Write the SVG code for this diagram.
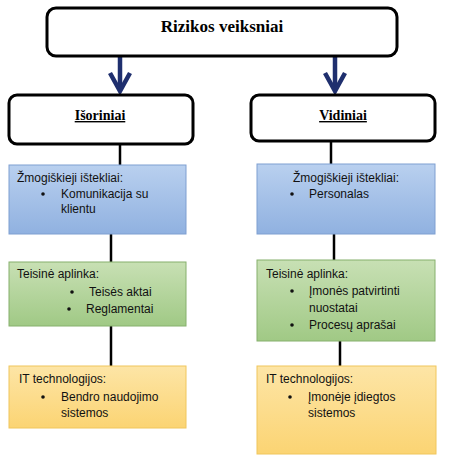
<svg xmlns="http://www.w3.org/2000/svg" width="449" height="456" viewBox="0 0 449 456">
<defs>
<linearGradient id="gb" x1="0" y1="0" x2="0" y2="1"><stop offset="0" stop-color="#b9d0ef"/><stop offset="1" stop-color="#90b1e0"/></linearGradient>
<linearGradient id="gg" x1="0" y1="0" x2="0" y2="1"><stop offset="0" stop-color="#c8e0b4"/><stop offset="1" stop-color="#a0c985"/></linearGradient>
<linearGradient id="gy" x1="0" y1="0" x2="0" y2="1"><stop offset="0" stop-color="#fde5a6"/><stop offset="1" stop-color="#fbd473"/></linearGradient>
<style>
.hdr{fill:#fff;stroke:#000;stroke-width:3}
.ht{font-family:"Liberation Serif",serif;font-weight:bold;fill:#000;text-anchor:middle}
.blue{fill:url(#gb);stroke:#7f9fd1;stroke-width:1}
.green{fill:url(#gg);stroke:#86b06c;stroke-width:1}
.yellow{fill:url(#gy);stroke:#f0c65c;stroke-width:1}
.t{font-family:"Liberation Sans",Arial,sans-serif;font-size:12px;fill:#111}
.b{fill:#111}
.line{stroke:#000;stroke-width:2.5;fill:none}
.arr{stroke:#1f2f6e;stroke-width:4.5;fill:none}
</style>
</defs>
<g id="connectors">
<line class="arr" x1="120" y1="56" x2="120" y2="90"/>
<polyline class="arr" points="110,73 120,91 130,73"/>
<line class="arr" x1="335" y1="56" x2="335" y2="90"/>
<polyline class="arr" points="325,73 335,91 345,73"/>
<line class="line" x1="120" y1="144" x2="120" y2="165"/>
<line class="line" x1="331" y1="141" x2="331" y2="164"/>
<line class="line" x1="111" y1="234" x2="111" y2="262"/>
<line class="line" x1="334" y1="234" x2="334" y2="260"/>
<line class="line" x1="111" y1="326" x2="111" y2="366"/>
<line class="line" x1="340" y1="341" x2="340" y2="366"/>
</g>
<g id="root">
<rect class="hdr" x="47" y="8" width="350" height="48" rx="9"/>
<text class="ht" x="222" y="32" font-size="17">Rizikos veiksniai</text>
</g>
<g id="isoriniai">
<rect class="hdr" x="9" y="95" width="184" height="49" rx="8"/>
<text class="ht" x="100" y="120" font-size="14" text-decoration="underline">Išoriniai</text>
</g>
<g id="vidiniai">
<rect class="hdr" x="251" y="95" width="184" height="46" rx="8"/>
<text class="ht" x="343" y="120" font-size="14" text-decoration="underline">Vidiniai</text>
</g>
<g id="l-zmog">
<rect class="blue" x="9" y="165" width="177" height="69"/>
<text class="t" x="17" y="182">Žmogiškieji ištekliai:</text>
<circle class="b" cx="43" cy="194" r="1.8"/>
<text class="t" x="61" y="198">Komunikacija su</text>
<text class="t" x="61" y="213">klientu</text>
</g>
<g id="l-teis">
<rect class="green" x="9" y="262" width="177" height="64"/>
<text class="t" x="17" y="278">Teisinė aplinka:</text>
<circle class="b" cx="72" cy="292" r="1.8"/>
<text class="t" x="89" y="296">Teisės aktai</text>
<circle class="b" cx="69" cy="309" r="1.8"/>
<text class="t" x="86" y="313">Reglamentai</text>
</g>
<g id="l-it">
<rect class="yellow" x="9" y="366" width="177" height="62"/>
<text class="t" x="19" y="383">IT technologijos:</text>
<circle class="b" cx="43" cy="397" r="1.8"/>
<text class="t" x="61" y="401">Bendro naudojimo</text>
<text class="t" x="61" y="417">sistemos</text>
</g>
<g id="r-zmog">
<rect class="blue" x="257" y="164" width="178" height="70"/>
<text class="t" x="293" y="182">Žmogiškieji ištekliai:</text>
<circle class="b" cx="292" cy="194" r="1.8"/>
<text class="t" x="309" y="198">Personalas</text>
</g>
<g id="r-teis">
<rect class="green" x="257" y="260" width="178" height="81"/>
<text class="t" x="266" y="278">Teisinė aplinka:</text>
<circle class="b" cx="292" cy="291" r="1.8"/>
<text class="t" x="309" y="295">Įmonės patvirtinti</text>
<text class="t" x="309" y="312">nuostatai</text>
<circle class="b" cx="292" cy="325" r="1.8"/>
<text class="t" x="309" y="329">Procesų aprašai</text>
</g>
<g id="r-it">
<rect class="yellow" x="257" y="366" width="179" height="88"/>
<text class="t" x="266" y="383">IT technologijos:</text>
<circle class="b" cx="290" cy="397" r="1.8"/>
<text class="t" x="308" y="401">Įmonėje įdiegtos</text>
<text class="t" x="308" y="417">sistemos</text>
</g>
</svg>
